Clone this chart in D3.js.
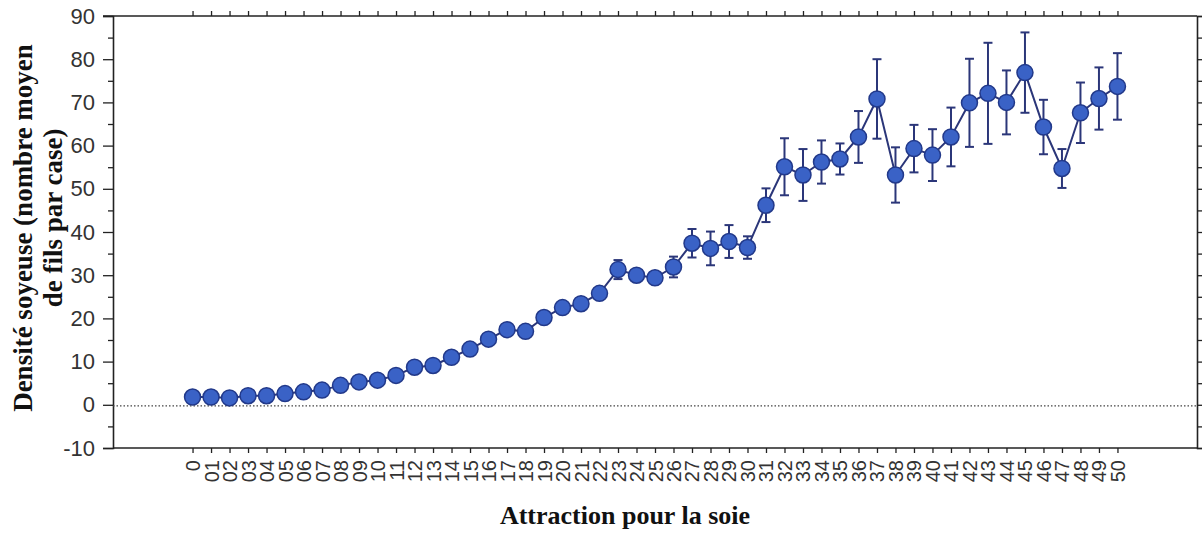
<!DOCTYPE html>
<html><head><meta charset="utf-8">
<script src="https://cdn.jsdelivr.net/npm/d3@7"></script>
<style>body{margin:0;background:#fff}svg{display:block}</style>
</head><body>
<svg id="c" width="1204" height="533"></svg>
<script>
const categories = ["0","01","02","03","04","05","06","07","08","09","10","11","12","13","14","15","16","17","18","19","20","21","22","23","24","25","26","27","28","29","30","31","32","33","34","35","36","37","38","39","40","41","42","43","44","45","46","47","48","49","50"];
const means = [1.8,1.8,1.6,2.1,2.1,2.6,3.0,3.4,4.5,5.3,5.7,6.8,8.7,9.1,11.0,12.9,15.2,17.4,17.0,20.2,22.5,23.4,25.8,31.3,30.0,29.4,31.9,37.4,36.2,37.8,36.4,46.2,55.1,53.2,56.2,56.9,62.0,70.8,53.2,59.3,57.8,62.0,69.9,72.1,70.0,76.9,64.3,54.7,67.6,70.9,73.7];
const errors = [0.3,0.3,0.3,0.3,0.3,0.3,0.4,0.4,0.5,0.5,0.5,0.6,0.7,0.7,0.8,0.9,1.0,1.2,1.0,1.0,1.1,1.1,1.3,2.2,1.0,1.0,2.4,3.3,3.9,3.8,2.6,3.9,6.6,6.0,5.0,3.6,6.0,9.2,6.4,5.5,6.0,6.8,10.2,11.7,7.4,9.3,6.3,4.5,7.0,7.2,7.7];
const yTicks = [-10,0,10,20,30,40,50,60,70,80,90];
const yTitle = ["Densité soyeuse (nombre moyen","de fils par case)"];
const xTitle = "Attraction pour la soie";

const svg = d3.select("#c");
const L=113, R=1197, T=16, B=448;
const x = d3.scalePoint().domain(categories).range([L,R]).padding(4.3);
const y = d3.scaleLinear().domain([-10,90]).range([B,T]);
const ink = "#222";
const navy = "#2b3679";

const g = svg.append("g");
const leftAx = g.append("g").attr("transform",`translate(${L},0)`)
  .call(d3.axisLeft(y).tickValues(yTicks).tickSize(10).tickPadding(8).tickFormat(d=>d));
leftAx.selectAll("text").attr("font-family","Liberation Sans, Arial, sans-serif").attr("font-size",22).attr("fill","#333");
leftAx.select(".domain").attr("stroke",ink).attr("stroke-width",1.6);
leftAx.selectAll(".tick line").attr("stroke",ink).attr("stroke-width",1.3);
const leftMinor = g.append("g").attr("transform",`translate(${L},0)`)
  .call(d3.axisLeft(y).tickValues(d3.range(-5,90,10)).tickSize(5).tickFormat(""));
leftMinor.select(".domain").remove();
leftMinor.selectAll(".tick line").attr("stroke",ink).attr("stroke-width",1.3);

const rightAx = g.append("g").attr("transform",`translate(${R},0)`)
  .call(d3.axisRight(y).tickValues(d3.range(-10,91,5)).tickSize(5).tickFormat(""));
rightAx.select(".domain").attr("stroke",ink).attr("stroke-width",1.6);
rightAx.selectAll(".tick line").attr("stroke",ink).attr("stroke-width",1.3);

const bottomAx = g.append("g").attr("transform",`translate(0,${B})`)
  .call(d3.axisBottom(x).tickSize(5).tickPadding(6));
bottomAx.select(".domain").attr("stroke",ink).attr("stroke-width",1.6).attr("d",`M${L},0H${R}`);
bottomAx.selectAll(".tick line").attr("stroke",ink).attr("stroke-width",1.3);
bottomAx.selectAll("text")
  .attr("font-family","Liberation Sans, Arial, sans-serif").attr("font-size",20).attr("fill","#333")
  .attr("text-anchor","end").attr("dy","0.35em")
  .attr("transform","translate(0,6) rotate(-90)").attr("x",-6).attr("y",0);

const topAx = g.append("g").attr("transform",`translate(0,${T})`)
  .call(d3.axisTop(x).tickSize(5).tickFormat(""));
topAx.select(".domain").attr("stroke",ink).attr("stroke-width",1.6).attr("d",`M${L-10},0H${R}`);
topAx.selectAll(".tick line").attr("stroke",ink).attr("stroke-width",1.3);

g.append("line").attr("x1",L).attr("x2",R).attr("y1",y(0)+1).attr("y2",y(0)+1)
  .attr("stroke","#444").attr("stroke-width",1.2).attr("stroke-dasharray","1.5,2");

const data = categories.map((c,i)=>({c, m:means[i], e:errors[i]}));

svg.append("path").datum(data)
  .attr("fill","none").attr("stroke",navy).attr("stroke-width",2)
  .attr("d", d3.line().x(d=>x(d.c)).y(d=>y(d.m)));

const eb = svg.append("g").attr("stroke",navy).attr("stroke-width",2);
data.forEach(d=>{
  const cx = x(d.c);
  eb.append("line").attr("x1",cx).attr("x2",cx).attr("y1",y(d.m+d.e)).attr("y2",y(d.m-d.e));
  eb.append("line").attr("x1",cx-4.5).attr("x2",cx+4.5).attr("y1",y(d.m+d.e)).attr("y2",y(d.m+d.e));
  eb.append("line").attr("x1",cx-4.5).attr("x2",cx+4.5).attr("y1",y(d.m-d.e)).attr("y2",y(d.m-d.e));
});

svg.append("g").selectAll("circle").data(data).join("circle")
  .attr("cx",d=>x(d.c)).attr("cy",d=>y(d.m)).attr("r",8)
  .attr("fill","#3a62c6").attr("stroke","#22398a").attr("stroke-width",1.5);

const serif = "Liberation Serif, Times New Roman, serif";
svg.append("text").attr("transform",`translate(32,228) rotate(-90)`)
  .attr("text-anchor","middle").attr("font-family",serif).attr("font-weight","bold")
  .attr("font-size",27).attr("fill","#111").text(yTitle[0]);
svg.append("text").attr("transform",`translate(62,218) rotate(-90)`)
  .attr("text-anchor","middle").attr("font-family",serif).attr("font-weight","bold")
  .attr("font-size",27).attr("fill","#111").text(yTitle[1]);
svg.append("text").attr("x",625).attr("y",524)
  .attr("text-anchor","middle").attr("font-family",serif).attr("font-weight","bold")
  .attr("font-size",26).attr("fill","#111").text(xTitle);
</script>
</body></html>
